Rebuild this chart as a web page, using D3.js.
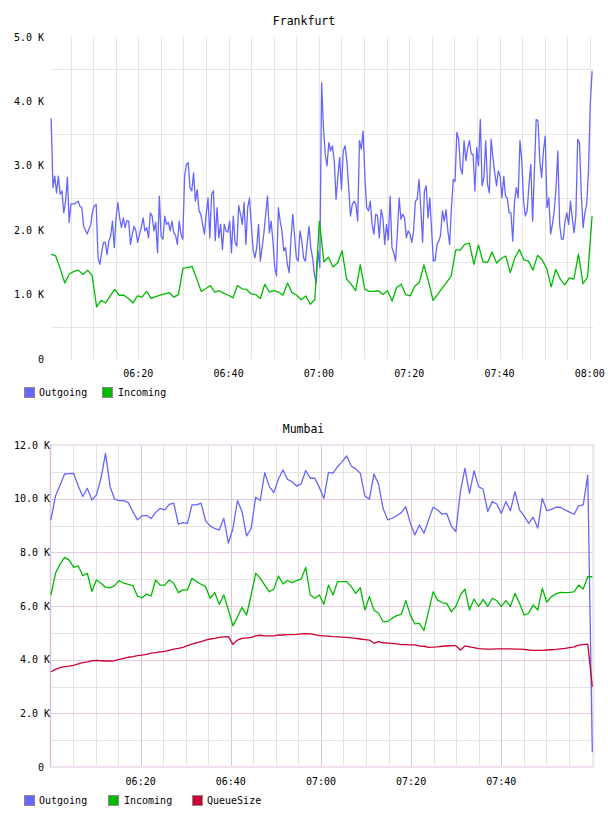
<!DOCTYPE html>
<html><head><meta charset="utf-8">
<script src="https://cdn.jsdelivr.net/npm/d3@7"></script>
<style>
body{margin:0;background:#fff;}
svg text{font-family:"DejaVu Sans Mono",monospace;fill:#000;}
</style></head><body>
<svg id="c" width="608" height="816"></svg>
<script>
// ---------------- DATA (values in thousands) ----------------
const fraTitle = "Frankfurt";
const fraStart = "06:00:42", fraEnd = "08:00:30";
const fraOutgoingK = [
3.74,2.66,2.84,2.58,2.84,2.56,2.61,2.27,2.45,2.82,2.12,2.41,2.41,2.41,2.43,2.45,2.37,2.35,2.06,2.0,
1.94,2.02,2.09,2.30,2.38,2.40,1.57,1.47,1.65,1.81,1.81,1.62,1.83,1.91,2.14,1.73,2.19,2.43,2.19,2.04,
2.19,2.04,2.15,2.14,1.78,1.94,2.06,1.99,1.81,1.94,2.04,2.19,1.99,2.04,1.88,2.27,2.22,1.99,2.12,1.65,
2.53,1.90,1.86,2.22,2.09,2.12,1.99,2.14,1.96,1.92,1.78,2.14,1.94,1.86,2.84,3.02,3.05,2.66,2.61,2.89,
2.45,2.63,2.30,2.25,2.09,1.94,2.25,2.5,1.88,2.56,2.61,1.84,2.35,1.88,2.09,1.70,2.09,1.99,1.97,2.14,
1.65,2.22,1.81,1.75,2.38,2.25,2.09,2.43,1.78,2.35,2.5,2.09,1.70,1.57,1.73,2.09,1.52,1.73,1.96,2.25,
2.53,1.96,2.14,1.83,1.42,1.29,2.35,2.14,1.99,1.68,1.73,1.47,1.34,1.86,2.25,1.91,1.57,1.52,1.99,1.83,
1.57,1.52,1.80,2.06,1.73,1.57,1.31,1.18,1.68,1.42,4.29,3.6,3.18,3.0,3.36,3.23,3.31,3.08,2.48,2.82,
3.13,2.63,3.23,3.31,3.08,2.66,2.22,2.40,2.45,2.40,2.14,3.39,3.26,3.54,2.82,2.35,2.30,2.45,2.09,1.94,
2.25,2.22,1.88,2.32,2.19,1.78,2.09,1.85,2.53,1.73,1.65,1.52,1.95,2.5,2.17,2.25,2.19,1.88,1.99,1.94,
1.81,1.99,2.45,2.48,2.79,2.35,1.81,2.6,2.69,2.19,2.5,2.0,1.52,1.53,1.78,1.83,1.93,2.30,2.14,2.32,
1.99,1.78,2.35,2.79,2.76,3.52,3.41,2.97,2.87,3.39,3.08,3.28,3.39,3.18,3.18,2.61,3.28,3.0,3.72,2.69,
2.82,3.39,2.71,2.58,3.41,3.13,2.89,2.69,2.92,2.84,2.5,2.84,2.53,2.5,2.27,2.27,1.83,2.45,2.66,2.5,
3.39,3.08,2.45,2.22,2.30,2.71,3.02,2.14,2.92,3.72,3.70,3.08,2.82,3.23,3.46,2.35,2.5,1.94,2.09,2.30,
2.66,3.23,2.09,1.86,1.86,2.14,2.27,2.09,2.45,2.19,1.96,2.22,3.41,3.36,2.56,2.04,2.27,2.40,2.92,3.96,
4.47];
const fraIncomingK = [
1.63,1.60,1.40,1.18,1.32,1.36,1.38,1.31,1.38,1.30,0.81,0.91,0.87,0.98,1.08,0.99,0.99,0.94,0.87,0.98,
0.96,1.05,0.94,0.97,0.99,1.01,1.03,0.96,1.0,1.41,1.42,1.44,1.25,1.05,1.09,1.14,1.04,1.06,1.02,0.99,
0.95,1.14,1.09,1.08,1.01,1.0,0.94,1.16,1.04,1.06,1.04,0.99,1.18,1.03,0.99,0.92,0.98,0.85,0.92,2.14,
1.51,1.58,1.43,1.49,1.68,1.24,1.16,1.06,1.46,1.08,1.05,1.05,1.06,1.0,1.06,0.90,1.11,1.16,1.0,0.98,
1.13,1.19,1.46,1.21,0.91,1.0,1.10,1.19,1.29,1.69,1.69,1.78,1.80,1.47,1.77,1.51,1.50,1.66,1.49,1.56,
1.60,1.34,1.57,1.70,1.54,1.52,1.38,1.61,1.54,1.41,1.12,1.39,1.24,1.15,1.26,1.24,1.63,1.17,1.27,2.22];
const fraYTicksK = [0,1,2,3,4,5];
const fraYGridK = [0.5,1.5,2.5,3.5,4.5];
const fraTimeLabels = ["06:20","06:40","07:00","07:20","07:40","08:00"];

const mumTitle = "Mumbai";
const mumStart = "06:00:06", mumEnd = "08:00:12";
const mumOutgoingK = [
9.21,10.10,10.5,10.92,10.93,10.94,10.47,10.08,10.39,9.95,10.14,10.76,11.69,10.45,9.98,9.93,9.93,9.85,9.52,9.21,
9.36,9.38,9.26,9.48,9.64,9.58,9.79,9.83,9.05,9.11,9.08,9.77,9.77,9.83,9.17,8.98,8.89,8.83,9.27,8.34,
8.89,9.93,9.52,8.61,8.89,10.05,9.93,10.97,10.45,10.23,10.73,11.07,10.72,10.63,10.47,10.55,11.05,10.76,10.76,10.42,
10.01,10.98,10.95,11.19,11.38,11.59,11.22,11.11,10.95,10.10,9.98,10.92,10.55,9.64,9.21,9.27,9.36,9.48,9.70,9.08,
8.65,9.02,8.71,9.21,9.68,9.58,9.42,9.45,8.98,8.77,10.26,11.13,10.20,11.04,10.45,10.35,9.52,9.89,9.80,9.45,
9.89,9.55,10.26,9.58,9.36,9.08,9.31,8.90,10.01,9.55,9.60,9.68,9.68,9.58,9.50,9.42,9.73,9.77,10.88,0.55];
const mumIncomingK = [
6.41,7.22,7.56,7.81,7.71,7.44,7.50,7.13,7.22,6.54,6.97,6.85,6.70,6.68,6.76,6.95,6.85,6.81,6.76,6.37,
6.31,6.44,6.37,6.97,6.78,6.78,6.97,6.85,6.50,6.60,6.60,7.03,6.91,6.81,6.72,6.29,6.50,6.06,6.41,5.85,
5.26,5.60,5.95,5.66,6.4,7.22,7.03,6.78,6.53,6.63,7.12,6.82,6.95,6.87,6.95,7.0,7.44,6.41,6.29,6.41,
6.06,6.78,6.41,6.91,6.91,6.91,6.72,6.47,6.68,5.85,6.35,5.85,5.73,5.42,5.42,5.54,5.64,5.69,6.20,5.66,
5.33,5.35,5.08,5.8,6.53,6.22,6.12,6.10,5.79,5.98,6.41,6.63,5.85,6.26,5.98,6.25,5.98,6.29,6.20,5.98,
6.20,5.98,6.47,6.10,5.66,5.73,6.04,5.85,6.66,6.14,6.35,6.45,6.51,6.50,6.51,6.53,6.78,6.63,7.09,7.09];
const mumQueueK = [
3.55,3.64,3.70,3.74,3.76,3.79,3.84,3.89,3.92,3.96,3.97,3.96,3.95,3.95,3.96,4.01,4.05,4.09,4.11,4.15,
4.17,4.20,4.24,4.26,4.29,4.31,4.35,4.39,4.42,4.46,4.52,4.58,4.63,4.67,4.73,4.77,4.79,4.83,4.85,4.86,
4.57,4.73,4.79,4.81,4.83,4.89,4.91,4.89,4.89,4.89,4.92,4.92,4.93,4.93,4.94,4.96,4.97,4.96,4.93,4.90,
4.89,4.88,4.86,4.85,4.84,4.83,4.81,4.79,4.77,4.75,4.73,4.61,4.67,4.63,4.62,4.61,4.59,4.56,4.56,4.55,
4.55,4.51,4.50,4.46,4.47,4.48,4.50,4.51,4.52,4.52,4.36,4.51,4.48,4.45,4.41,4.40,4.39,4.39,4.40,4.40,
4.40,4.40,4.39,4.39,4.38,4.36,4.35,4.35,4.35,4.36,4.37,4.38,4.40,4.42,4.45,4.48,4.54,4.56,4.58,2.99];
const mumYTicksK = [0,2,4,6,8,10,12];
const mumYGridK = [1,2,3,4,5,6,7,8,9,10,11];
const mumTimeLabels = ["06:20","06:40","07:00","07:20","07:40"];

const seriesNames = ["Outgoing","Incoming","QueueSize"];
const seriesColors = ["#6666ff","#00bb00","#cc0033"];

// ---------------- DRAWING ----------------
const svg = d3.select("#c");
const parse = d3.timeParse("%H:%M:%S");
const pm = d3.timeParse("%H:%M");

function times(start, end, n){
  const a = parse(start).getTime(), b = parse(end).getTime();
  return d3.range(n).map(i => new Date(a + (b - a) * i / (n - 1)));
}
function fmtK(v){ return v === 0 ? "0" : v.toFixed(1) + " K"; }

function drawLine(g, x, y, ts, vals, color){
  const data = vals.map((v, i) => [ts[i], v]);
  g.append("path").datum(data)
    .attr("fill","none").attr("stroke",color).attr("stroke-width",1.3)
    .attr("stroke-linejoin","round")
    .attr("d", d3.line().x(d => x(d[0])).y(d => y(d[1])));
}

function legend(y, names, xs, txs){
  names.forEach((n, i) => {
    svg.append("rect").attr("x", xs[i] + 0.5).attr("y", y + 0.5).attr("width", 10).attr("height", 10)
      .attr("fill", seriesColors[i]).attr("stroke", "#8a8a8a").attr("stroke-width", 1);
    svg.append("text").attr("x", txs[i]).attr("y", y + 9).attr("font-size", 10).text(n);
  });
}

// ===== Frankfurt =====
{
  const x = d3.scaleTime().domain([parse("06:00:40"), parse("08:00:46")]).range([51, 593.3]);
  const y = d3.scaleLinear().domain([0, 5]).range([359, 37]);
  const g = svg.append("g");
  const vt = x.ticks(d3.timeMinute.every(5));
  g.selectAll(".vg").data(vt).enter().append("line")
    .attr("x1", d => Math.round(x(d)) + 0.5).attr("x2", d => Math.round(x(d)) + 0.5)
    .attr("y1", 37).attr("y2", 359).attr("stroke", "#e6e6e6");
  g.selectAll(".hg").data(fraYGridK).enter().append("line")
    .attr("x1", 51).attr("x2", 593.3)
    .attr("y1", d => Math.round(y(d)) + 0.5).attr("y2", d => Math.round(y(d)) + 0.5).attr("stroke", "#e6e6e6");
  svg.append("text").attr("x", 304).attr("y", 24.5).attr("text-anchor","middle").attr("font-size", 11.5).text(fraTitle);
  g.selectAll(".yl").data(fraYTicksK).enter().append("text")
    .attr("x", 44).attr("y", d => y(d)).attr("dy", "0.35em").attr("text-anchor","end").attr("font-size", 10)
    .text(fmtK);
  g.selectAll(".xl").data(fraTimeLabels).enter().append("text")
    .attr("x", d => x(new Date(pm(d).getTime()))).attr("y", 377).attr("text-anchor","middle").attr("font-size", 10)
    .text(d => d);
  drawLine(g, x, y, times(fraStart, fraEnd, fraOutgoingK.length), fraOutgoingK, seriesColors[0]);
  drawLine(g, x, y, times(fraStart, fraEnd, fraIncomingK.length), fraIncomingK, seriesColors[1]);
  legend(387, seriesNames.slice(0, 2), [24, 102], [39, 118]);
}

// ===== Mumbai =====
{
  const x = d3.scaleTime().domain([parse("06:00:00"), parse("08:00:25")]).range([50.5, 593.3]);
  const y = d3.scaleLinear().domain([0, 12]).range([767, 445]);
  const g = svg.append("g");
  const vt = x.ticks(d3.timeMinute.every(5)).filter(d => x(d) > 52 && x(d) < 590);
  const major = d => d.getMinutes() % 20 === 0;
  g.selectAll(".vg").data(vt).enter().append("line")
    .attr("x1", d => Math.round(x(d)) + 0.5).attr("x2", d => Math.round(x(d)) + 0.5)
    .attr("y1", 445).attr("y2", 767).attr("stroke", d => major(d) ? "#dcc3dc" : "#e3e3e3");
  g.selectAll(".hg").data(mumYGridK).enter().append("line")
    .attr("x1", 50.5).attr("x2", 593.3)
    .attr("y1", d => Math.round(y(d)) + 0.5).attr("y2", d => Math.round(y(d)) + 0.5)
    .attr("stroke", d => d % 2 === 0 ? "#e2cbe2" : "#e3e3e3");
  g.append("rect").attr("x", 50.5).attr("y", 445).attr("width", 593.3 - 50.5).attr("height", 767 - 445)
    .attr("fill", "none").attr("stroke", "#efe2ef").attr("stroke-width", 2);
  g.append("line").attr("x1", 50.5).attr("x2", 50.5).attr("y1", 445).attr("y2", 767).attr("stroke", "#d9bfd9");
  svg.append("text").attr("x", 303.5).attr("y", 433).attr("text-anchor","middle").attr("font-size", 11.5).text(mumTitle);
  g.selectAll(".yl").data(mumYTicksK).enter().append("text")
    .attr("x", d => d === 0 ? 44 : 50).attr("y", d => y(d)).attr("dy", "0.35em").attr("text-anchor","end").attr("font-size", 10)
    .text(fmtK);
  g.selectAll(".xl").data(mumTimeLabels).enter().append("text")
    .attr("x", d => x(pm(d))).attr("y", 785).attr("text-anchor","middle").attr("font-size", 10)
    .text(d => d);
  const ts = times(mumStart, mumEnd, mumOutgoingK.length);
  drawLine(g, x, y, ts, mumOutgoingK, seriesColors[0]);
  drawLine(g, x, y, ts, mumIncomingK, seriesColors[1]);
  drawLine(g, x, y, ts, mumQueueK, seriesColors[2]);
  legend(795, seriesNames, [24, 108, 192], [39, 124, 207]);
}
</script>
</body></html>
